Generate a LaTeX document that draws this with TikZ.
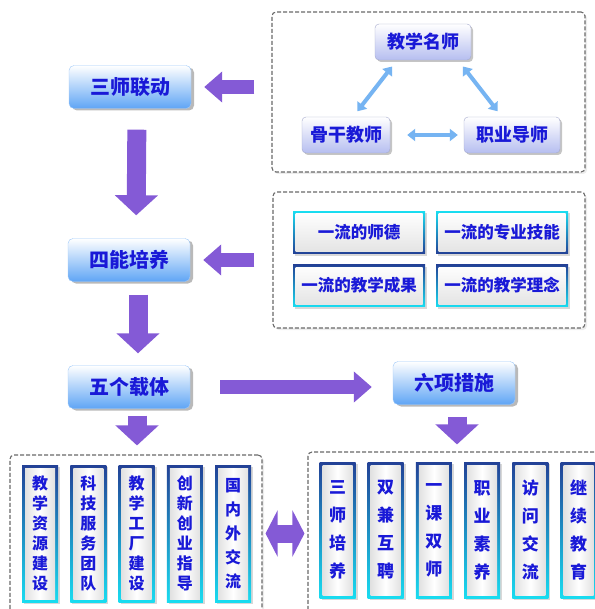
\documentclass[tikz,border=0pt]{standalone}
\usepackage{fontspec}
\newfontfamily\cjk{Noto Sans CJK SC}[BoldFont={* Black}]
\usetikzlibrary{arrows.meta,positioning,shadows}
\definecolor{arrowpurple}{RGB}{132,90,214}
\definecolor{textblue}{RGB}{25,25,215}
\definecolor{boxblue}{RGB}{95,165,245}
\definecolor{lavender}{RGB}{182,190,240}
\definecolor{skyarrow}{RGB}{118,180,242}
\definecolor{rimdark}{RGB}{35,65,150}
\definecolor{rimcyan}{RGB}{25,220,240}
\definecolor{framegray}{RGB}{105,105,105}

\begin{document}
\begin{tikzpicture}[x=1pt,y=-1pt]
	\tikzstyle{every node}=[font=\cjk\bfseries,text=textblue];
	\tikzstyle{frame}=[draw=framegray,dash pattern=on 4pt off 2pt,line width=1.1pt,rounded corners=4pt,fill=white,drop shadow={opacity=.15,shadow xshift=2pt,shadow yshift=-2pt}];
	\tikzstyle{stage}=[rectangle,rounded corners=5pt,minimum width=122pt,minimum height=43pt,top color=white,bottom color=boxblue,draw=boxblue!60!white,drop shadow={opacity=.55,shadow xshift=3pt,shadow yshift=-2pt},font=\cjk\bfseries\fontsize{20}{22}\selectfont];
	\tikzstyle{teacher}=[rectangle,rounded corners=4pt,minimum width=96pt,minimum height=36pt,top color=white,bottom color=lavender,draw=lavender!70!gray,drop shadow={opacity=.45,shadow xshift=2pt,shadow yshift=-2pt},font=\cjk\bfseries\fontsize{18}{20}\selectfont];
	\tikzstyle{rimdown}=[rectangle,minimum width=132pt,minimum height=42pt,top color=rimcyan,bottom color=rimdark,drop shadow={opacity=.3,shadow xshift=2pt,shadow yshift=-2pt},font=\cjk\bfseries\fontsize{16.5}{18}\selectfont,
		path picture={\shade[top color=white,bottom color=gray!22] ([shift={(2.5pt,2.5pt)}]path picture bounding box.south west) rectangle ([shift={(-2.5pt,-2.5pt)}]path picture bounding box.north east);}];
	\tikzstyle{rimup}=[rimdown,top color=rimdark,bottom color=rimcyan];
	\tikzstyle{pillar}=[rectangle,minimum width=36pt,minimum height=137pt,inner sep=0pt,align=center,top color=rimdark,bottom color=rimcyan,drop shadow={opacity=.3,shadow xshift=2pt,shadow yshift=-2pt},font=\cjk\bfseries\fontsize{16}{20}\selectfont,
		path picture={\shade[left color=gray!28,right color=gray!28,middle color=white] ([shift={(3pt,3pt)}]path picture bounding box.south west) rectangle ([shift={(-3pt,-3pt)}]path picture bounding box.north east);}];
	\tikzstyle{flow}=[draw=arrowpurple,line width=14pt,-{Triangle[length=18pt,width=30pt]}];
	\tikzstyle{downflow}=[draw=arrowpurple,line width=19pt,-{Triangle[length=20pt,width=42pt]}];
	\tikzstyle{twoway}=[draw=arrowpurple,line width=18pt,{Triangle[length=12pt,width=46pt]}-{Triangle[length=12pt,width=46pt]}];
	\tikzstyle{link}=[draw=skyarrow,line width=4pt,{Triangle[length=8pt,width=12pt]}-{Triangle[length=8pt,width=12pt]}];

	\useasboundingbox (0,0) rectangle (594,609);

	% dashed frames
	\node (teamframe) [frame,minimum width=313pt,minimum height=160pt] at (428.5,92) {};
	\node (abilityframe) [frame,minimum width=312pt,minimum height=136pt] at (429,260) {};
	\node (carrierframe) [frame,minimum width=252pt,minimum height=165pt] at (136,537.5) {};
	\node (measureframe) [frame,minimum width=296pt,minimum height=168pt] at (456,536) {};

	% main stages
	\node (sanshi) [stage] at (130,87) {三师联动};
	\node (sineng) [stage] at (129,260) {四能培养};
	\node (wuge) [stage] at (129,387) {五个载体};
	\node (liuxiang) [stage] at (454,383) {六项措施};

	% three teachers
	\node (mingshi) [teacher] at (423,42) {教学名师};
	\node (gugan) [teacher,minimum width=88pt] at (346,135) {骨干教师};
	\node (zhiye) [teacher] at (512,135) {职业导师};

	% four abilities
	\node (shide) [rimdown] at (359,232.5) {一流的师德};
	\node (jineng) [rimdown] at (502,232.5) {一流的专业技能};
	\node (chengguo) [rimup] at (359,285.5) {一流的教学成果};
	\node (linian) [rimup] at (502,285.5) {一流的教学理念};

	% five carriers
	\node (carrier1) [pillar] at (40,533.5) {教\\学\\资\\源\\建\\设};
	\node (carrier2) [pillar,right=11.9pt of carrier1] {科\\技\\服\\务\\团\\队};
	\node (carrier3) [pillar,right=11.9pt of carrier2] {教\\学\\工\\厂\\建\\设};
	\node (carrier4) [pillar,right=11.9pt of carrier3] {创\\新\\创\\业\\指\\导};
	\node (carrier5) [pillar,right=11.9pt of carrier4,font=\cjk\bfseries\fontsize{16}{24}\selectfont] {国\\内\\外\\交\\流};

	% six measures
	\node (measure1) [pillar,minimum height=136pt,font=\cjk\bfseries\fontsize{17}{28}\selectfont] at (337.5,530) {三\\师\\培\\养};
	\node (measure2) [pillar,minimum height=136pt,font=\cjk\bfseries\fontsize{17}{28}\selectfont,right=11.8pt of measure1] {双\\兼\\互\\聘};
	\node (measure3) [pillar,minimum height=136pt,font=\cjk\bfseries\fontsize{17}{28}\selectfont,right=11.8pt of measure2] {一\\课\\双\\师};
	\node (measure4) [pillar,minimum height=136pt,font=\cjk\bfseries\fontsize{17}{28}\selectfont,right=11.8pt of measure3] {职\\业\\素\\养};
	\node (measure5) [pillar,minimum height=136pt,font=\cjk\bfseries\fontsize{17}{28}\selectfont,right=11.8pt of measure4] {访\\问\\交\\流};
	\node (measure6) [pillar,minimum height=136pt,font=\cjk\bfseries\fontsize{17}{28}\selectfont,right=11.8pt of measure5] {继\\续\\教\\育};

	% teacher links
	\draw[link,shorten <=8pt,shorten >=7pt] ([xshift=-26pt]mingshi.south) -- ([xshift=7pt]gugan.north);
	\draw[link,shorten <=8pt,shorten >=7pt] ([xshift=35pt]mingshi.south) -- ([xshift=-10pt]zhiye.north);
	\draw[link,shorten <=17pt,shorten >=6pt] (gugan.east) -- (zhiye.west);

	% purple flow arrows
	\draw[flow,shorten <=17pt,shorten >=13pt] (sanshi.east -| teamframe.west) -- (sanshi.east);
	\draw[flow,shorten <=18pt,shorten >=13pt] (sineng.east -| abilityframe.west) -- (sineng.east);
	\draw[flow,shorten <=30pt,shorten >=21pt] (wuge.east) -- (wuge.east -| liuxiang.west);
	\draw[downflow,shorten <=21pt,shorten >=23pt] ([xshift=7pt]sanshi.south) -- ([xshift=7pt]sineng.north);
	\draw[downflow,shorten <=13pt,shorten >=12pt] ([xshift=9pt]sineng.south) -- ([xshift=9pt]wuge.north);
	\draw[downflow,shorten <=7pt,shorten >=9pt] ([xshift=8pt]wuge.south) -- ([xshift=8pt]wuge.south |- carrierframe.north);
	\draw[downflow,shorten <=12pt,shorten >=7pt] ([xshift=3pt]liuxiang.south) -- ([xshift=3pt]liuxiang.south |- measureframe.north);
	\draw[twoway,shorten <=3pt,shorten >=3pt] (carrier5.east -| carrierframe.east) -- (carrier5.east -| measureframe.west);
\end{tikzpicture}
\end{document}
